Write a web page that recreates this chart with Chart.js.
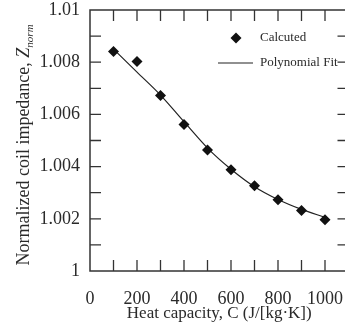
<!DOCTYPE html>
<html>
<head>
<meta charset="utf-8">
<script src="https://cdn.jsdelivr.net/npm/chart.js@4"></script>
<style>
  html, body { margin: 0; padding: 0; background: #fff; overflow: hidden; }
  #wrap { width: 354px; height: 326px; }
</style>
</head>
<body>
<div id="wrap"><canvas id="chart"></canvas></div>
<script>
// values
const heatCapacity = [100, 200, 300, 400, 500, 600, 700, 800, 900, 1000];
const calculated = [1.00841, 1.00803, 1.00672, 1.00561, 1.00464, 1.00388, 1.00327, 1.00273, 1.00232, 1.00196];
const fitX = [100, 200, 300, 400, 500, 600, 700, 800, 900, 1000];
const fitY = [1.00850, 1.00762, 1.00674, 1.00572, 1.00471, 1.00390, 1.00323, 1.00274, 1.00236, 1.00206];
const xLabels = [0, 200, 400, 600, 800, 1000];
const yLabels = [1, 1.002, 1.004, 1.006, 1.008, 1.01];

const SERIF = '"Liberation Serif", "Times New Roman", serif';
const INK = '#2a2a2a';

// inward ticks, full box, legend and the y title with subscript
const frame = {
    id: 'frame',
    afterDraw(chart) {
        const { ctx, chartArea: a, scales: { x, y } } = chart;
        ctx.save();
        ctx.strokeStyle = '#333';
        ctx.lineWidth = 1.5;
        ctx.strokeRect(a.left, a.top, a.right - a.left, a.bottom - a.top);

        ctx.lineWidth = 1.3;
        ctx.beginPath();
        x.ticks.forEach(t => {
            if (t.value <= x.min || t.value >= x.max) return;
            const px = x.getPixelForValue(t.value);
            ctx.moveTo(px, a.bottom); ctx.lineTo(px, a.bottom - 11);
            ctx.moveTo(px, a.top); ctx.lineTo(px, a.top + 11);
        });
        y.ticks.forEach(t => {
            if (t.value <= y.min + 1e-9 || t.value >= y.max - 1e-9) return;
            const py = y.getPixelForValue(t.value);
            ctx.moveTo(a.left, py); ctx.lineTo(a.left + 11, py);
            ctx.moveTo(a.right, py); ctx.lineTo(a.right - 11, py);
        });
        ctx.stroke();

        // legend
        ctx.fillStyle = '#111';
        ctx.beginPath();
        ctx.moveTo(236 - 5.5, 38); ctx.lineTo(236, 38 - 5.5);
        ctx.lineTo(236 + 5.5, 38); ctx.lineTo(236, 38 + 5.5);
        ctx.closePath();
        ctx.fill();
        ctx.strokeStyle = '#222';
        ctx.lineWidth = 1.2;
        ctx.beginPath();
        ctx.moveTo(218, 63); ctx.lineTo(253, 63);
        ctx.stroke();
        ctx.fillStyle = INK;
        ctx.font = '13px ' + SERIF;
        ctx.textBaseline = 'middle';
        ctx.textAlign = 'left';
        ctx.fillText('Calcuted', 260, 38);
        ctx.fillText('Polynomial Fit', 260, 63);

        // y title
        const main = 'Normalized coil impedance, ';
        ctx.textBaseline = 'alphabetic';
        ctx.font = '18px ' + SERIF;
        const w1 = ctx.measureText(main).width;
        ctx.font = 'italic 18px ' + SERIF;
        const w2 = ctx.measureText('Z').width;
        ctx.font = 'italic 11px ' + SERIF;
        const w3 = ctx.measureText('norm').width;
        ctx.translate(29, 145);
        ctx.rotate(-Math.PI / 2);
        let sx = -(w1 + w2 + w3) / 2;
        ctx.font = '18px ' + SERIF;
        ctx.fillText(main, sx, 0);
        sx += w1;
        ctx.font = 'italic 18px ' + SERIF;
        ctx.fillText('Z', sx, 0);
        sx += w2;
        ctx.font = 'italic 11px ' + SERIF;
        ctx.fillText('norm', sx, 4);
        ctx.restore();
    }
};

// keep the plot box where the reference has it
function noPad(s) {
    s.paddingTop = 0;
    s.paddingBottom = 0;
    s.paddingLeft = 0;
    s.paddingRight = 0;
}

const ctx = document.getElementById('chart').getContext('2d');
const chart = new Chart(ctx, {
    type: 'scatter',
    data: {
        datasets: [{
            label: 'Calcuted',
            data: heatCapacity.map((c, i) => ({ x: c, y: calculated[i] })),
            pointStyle: 'rectRot',
            pointRadius: 5.5,
            pointHoverRadius: 5.5,
            backgroundColor: '#111',
            borderColor: '#111',
            borderWidth: 0,
            showLine: false,
            order: 0
        }, {
            label: 'Polynomial Fit',
            data: fitX.map((c, i) => ({ x: c, y: fitY[i] })),
            showLine: true,
            pointRadius: 0,
            borderColor: '#222',
            borderWidth: 1.2,
            cubicInterpolationMode: 'monotone',
            order: 1
        }]
    },
    options: {
        responsive: true,
        maintainAspectRatio: false,
        animation: false,
        layout: { padding: { top: 10, left: 0, right: 0, bottom: 0 } },
        plugins: {
            legend: { display: false },
            tooltip: { enabled: false }
        },
        scales: {
            x: {
                type: 'linear',
                min: 0,
                max: 1100,
                afterFit: s => { s.height = 55; noPad(s); },
                grid: { display: false, drawTicks: false },
                border: { display: false },
                ticks: {
                    stepSize: 100,
                    padding: 17,
                    maxRotation: 0,
                    autoSkip: false,
                    color: INK,
                    font: { family: SERIF, size: 18 },
                    callback: v => xLabels.includes(v) ? String(v) : ''
                },
                title: {
                    display: true,
                    text: 'Heat capacity, C (J/[kg\u00b7K])',
                    color: INK,
                    font: { family: SERIF, size: 17 },
                    padding: { top: 0, bottom: 2 }
                }
            },
            y: {
                type: 'linear',
                min: 1,
                max: 1.01,
                afterFit: s => { s.width = 90; noPad(s); },
                grid: { display: false, drawTicks: false },
                border: { display: false },
                ticks: {
                    stepSize: 0.001,
                    padding: 10,
                    autoSkip: false,
                    color: INK,
                    font: { family: SERIF, size: 18 },
                    callback: v => {
                        const r = Number(v.toFixed(3));
                        return yLabels.includes(r) ? String(r) : '';
                    }
                }
            }
        }
    },
    plugins: [frame]
});
</script>
</body>
</html>
